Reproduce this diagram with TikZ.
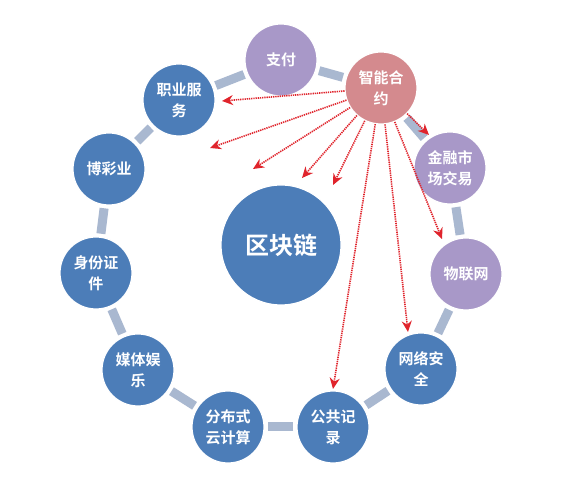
\documentclass[tikz,border=0pt]{standalone}
\usepackage{fontspec}
\newfontfamily\cjk{Noto Sans CJK SC}[BoldFont={Noto Sans CJK SC Bold}]
\usetikzlibrary{arrows.meta}
\definecolor{cblue}{HTML}{4C7DB8}
\definecolor{cpurple}{HTML}{A898C8}
\definecolor{cpink}{HTML}{D48A8E}
\definecolor{cbar}{HTML}{A9B8D0}
\definecolor{cred}{HTML}{E0242C}
\tikzset{
  ball/.style={circle, minimum size=72pt, inner sep=0pt, draw=white, line width=1.2pt,
    text=white, align=center, font=\cjk\bfseries\fontsize{15}{21}\selectfont},
  bluen/.style={ball, fill=cblue},
  purplen/.style={ball, fill=cpurple},
  pinkn/.style={ball, fill=cpink},
  bar/.style={draw=cbar, line width=9pt, shorten <=3pt, shorten >=3pt},
  redarrow/.style={draw=cred, line width=1.6pt, dash pattern=on 1.3pt off 0.9pt,
    -{Stealth[length=11pt,width=10pt,fill=cred]}}
}
\begin{document}
\begin{tikzpicture}[x=1pt,y=-1pt]
\useasboundingbox[fill=white] (0,0) rectangle (566,494);
% ring nodes
\node[purplen] (pay) at (281,60) {支付};
\node[pinkn] (sc) at (381,88) {智能合\\约};
\node[purplen] (fin) at (450,168) {金融市\\场交易};
\node[purplen] (iot) at (466,274) {物联网};
\node[bluen] (sec) at (421,369) {网络安\\全};
\node[bluen] (pub) at (333,427) {公共记\\录};
\node[bluen] (cloud) at (228,427) {分布式\\云计算};
\node[bluen] (media) at (138,370) {媒体娱\\乐};
\node[bluen] (id) at (96,273) {身份证\\件};
\node[bluen] (gamb) at (109,169) {博彩业};
\node[bluen] (job) at (179,100) {职业服\\务};
\node[bluen, minimum size=120pt, font=\cjk\bfseries\fontsize{24}{28}\selectfont] (bc) at (281,245) {区块链};
% bars
\foreach \a/\b in {pay/sc, sc/fin, fin/iot, iot/sec, sec/pub, pub/cloud, cloud/media, media/id, id/gamb, gamb/job, job/pay}
  \path[bar] (\a) -- (\b);
% arrow ends
\coordinate (t1) at (222,101);
\coordinate (t2) at (210,148);
\coordinate (t3) at (253,169);
\coordinate (t4) at (302,178);
\coordinate (t5) at (333,185);
\coordinate (t6) at (333,389);
\coordinate (t7) at (408,332);
\coordinate (t8) at (442,239);
\coordinate (t9) at (429,135);
\foreach \t in {t1,t2,t3,t4,t5,t6,t7,t8,t9}
  \draw[redarrow] (sc) -- (\t);
\end{tikzpicture}
\end{document}
